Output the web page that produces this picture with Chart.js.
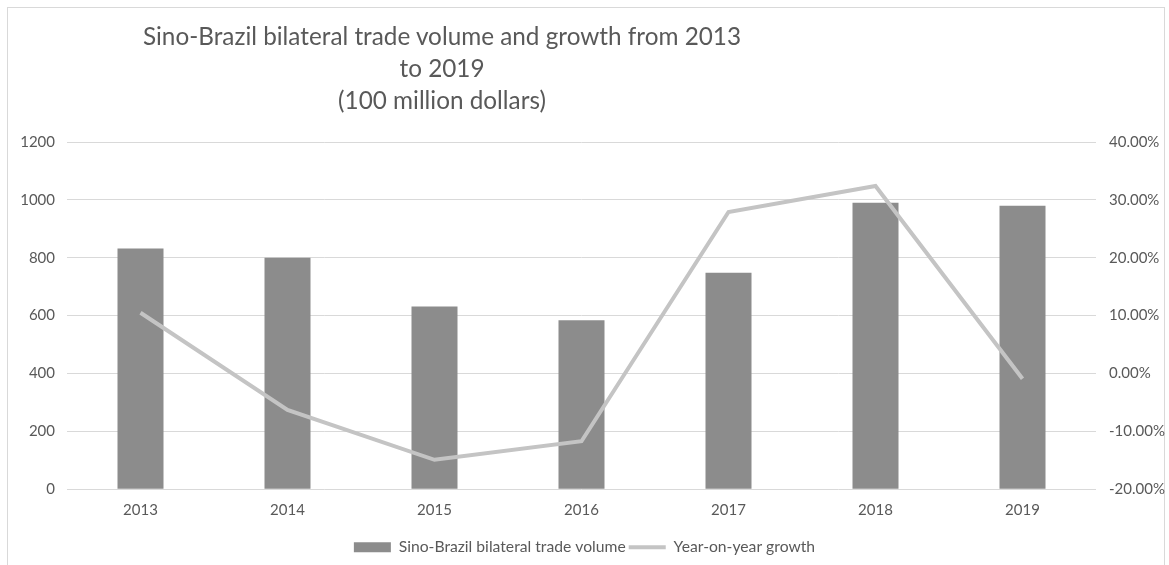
<!DOCTYPE html>
<html>
<head>
<meta charset="utf-8">
<script src="https://cdn.jsdelivr.net/npm/chart.js@4/dist/chart.umd.min.js"></script>
<style>
  html, body { margin: 0; padding: 0; background: #fff; }
  #wrap { position: relative; width: 1169px; height: 565px; overflow: hidden; }
  #frame { position: absolute; left: 7px; top: 7px; width: 1158px; height: 600px; border: 1px solid #d9d9d9; box-sizing: border-box; }
  #title {
    position: absolute; left: 42px; top: 20px; width: 800px;
    text-align: center; color: #595959;
    font-family: Lato, "Open Sans", sans-serif; font-size: 24.3px; line-height: 32px;
  }
  #chart { position: absolute; left: 0; top: 0; }
</style>
</head>
<body>
<div id="wrap">
  <div id="frame"></div>
  <canvas id="chart" width="1169" height="565"></canvas>
  <div id="title">Sino-Brazil bilateral trade volume and growth from 2013<br>to 2019<br>(100 million dollars)</div>
</div>
<script>
// Trade volume (100 million USD) and year-on-year growth (%)
const years = ['2013', '2014', '2015', '2016', '2017', '2018', '2019'];
const tradeVolume = [832, 800, 632, 584, 748, 990, 980];
const yoyGrowth = [10.5, -6.3, -14.9, -11.7, 27.9, 32.4, -0.9];

const volumeTicks = [0, 200, 400, 600, 800, 1000, 1200];
const growthTicks = [-20, -10, 0, 10, 20, 30, 40];

const FONT = 'Lato, "Open Sans", sans-serif';
const TEXT = '#595959';

const ctx = document.getElementById('chart').getContext('2d');
new Chart(ctx, {
  data: {
    labels: years,
    datasets: [
      {
        type: 'line',
        label: 'Year-on-year growth',
        data: yoyGrowth,
        yAxisID: 'yRight',
        borderColor: '#c4c4c4',
        backgroundColor: '#c4c4c4',
        borderWidth: 4,
        pointRadius: 0,
        pointStyle: 'line',
        tension: 0,
        order: 0
      },
      {
        type: 'bar',
        label: 'Sino-Brazil bilateral trade volume',
        data: tradeVolume,
        yAxisID: 'yLeft',
        backgroundColor: '#8c8c8c',
        borderWidth: 0,
        pointStyle: 'rect',
        categoryPercentage: 1,
        barPercentage: 0.313,
        order: 1
      }
    ]
  },
  options: {
    responsive: false,
    animation: false,
    layout: { padding: { top: 142, left: 0, right: 0, bottom: 0 } },
    plugins: {
      title: { display: false },
      tooltip: { enabled: false },
      legend: {
        position: 'bottom',
        reverse: true,
        labels: {
          usePointStyle: true,
          pointStyleWidth: 37,
          boxHeight: 10,
          padding: 3,
          color: TEXT,
          font: { family: FONT, size: 15.7 }
        }
      }
    },
    scales: {
      x: {
        grid: { display: false, drawTicks: false },
        border: { display: false },
        ticks: { color: TEXT, font: { family: FONT, size: 15 }, padding: 12 },
        afterFit: s => { s.height = 47; }
      },
      yLeft: {
        position: 'left',
        min: 0, max: 1200,
        afterBuildTicks: s => { s.ticks = volumeTicks.map(v => ({ value: v })); },
        grid: { color: '#d9d9d9', lineWidth: 1, drawTicks: false },
        border: { display: false },
        ticks: { color: TEXT, font: { family: FONT, size: 15 }, padding: 12, callback: v => String(v) },
        afterFit: s => { s.width = 67; }
      },
      yRight: {
        position: 'right',
        min: -20, max: 40,
        afterBuildTicks: s => { s.ticks = growthTicks.map(v => ({ value: v })); },
        grid: { display: false, drawTicks: false },
        border: { display: false },
        ticks: {
          color: TEXT, font: { family: FONT, size: 15 }, padding: 13,
          callback: v => v.toFixed(2) + '%'
        },
        afterFit: s => { s.width = 73; }
      }
    }
  }
});
</script>
</body>
</html>
